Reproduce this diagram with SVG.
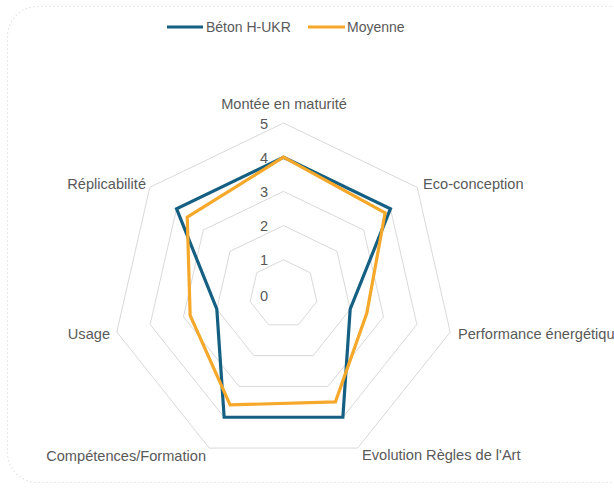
<svg xmlns="http://www.w3.org/2000/svg" width="614" height="488" viewBox="0 0 614 488">
<style>
.grid{fill:none;stroke:#D9D9D9;stroke-width:1}
.lbl{font-family:"Liberation Sans",Arial,sans-serif;font-size:14px;fill:#595959}
.ax{font-family:"Liberation Sans",Arial,sans-serif;font-size:14.6px;fill:#595959}
.ser{fill:none;stroke-width:3.2;stroke-linejoin:miter}
</style>
<rect x="0" y="0" width="614" height="488" fill="#FFFFFF"/>
<rect x="7.5" y="6.5" width="640" height="476" rx="30" fill="none" stroke="#E3E3E3" stroke-width="1.2" stroke-dasharray="1.5 2.5"/>
<g id="legend">
<line x1="167" y1="27" x2="203" y2="27" stroke="#156082" stroke-width="3.2"/>
<text class="lbl" x="206" y="32">Béton H-UKR</text>
<line x1="308" y1="27" x2="345" y2="27" stroke="#F5A82A" stroke-width="3.2"/>
<text class="lbl" x="347" y="32">Moyenne</text>
</g>
<g id="grid">
<polygon class="grid" points="283.5,259.8 310.24,272.68 316.84,301.61 298.34,324.81 268.66,324.81 250.16,301.61 256.76,272.68"/>
<polygon class="grid" points="283.5,225.6 336.98,251.35 350.18,309.22 313.18,355.63 253.82,355.63 216.82,309.22 230.02,251.35"/>
<polygon class="grid" points="283.5,191.4 363.71,230.03 383.52,316.83 328.02,386.44 238.98,386.44 183.48,316.83 203.29,230.03"/>
<polygon class="grid" points="283.5,157.2 390.45,208.71 416.87,324.44 342.86,417.26 224.14,417.26 150.13,324.44 176.55,208.71"/>
<polygon class="grid" points="283.5,123 417.19,187.38 450.21,332.05 357.7,448.07 209.3,448.07 116.79,332.05 149.81,187.38"/>
</g>
<g id="scale">
<text class="ax" x="268" y="129" text-anchor="end">5</text>
<text class="ax" x="268" y="163" text-anchor="end">4</text>
<text class="ax" x="268" y="197" text-anchor="end">3</text>
<text class="ax" x="268" y="231" text-anchor="end">2</text>
<text class="ax" x="268" y="265" text-anchor="end">1</text>
<text class="ax" x="268" y="301" text-anchor="end">0</text>
</g>
<g id="categories">
<text class="ax" x="284" y="109" text-anchor="middle">Montée en maturité</text>
<text class="ax" x="423" y="189">Eco-conception</text>
<text class="ax" x="458" y="339">Performance énergétique</text>
<text class="ax" x="362" y="460">Evolution Règles de l'Art</text>
<text class="ax" x="206" y="461" text-anchor="end">Compétences/Formation</text>
<text class="ax" x="110" y="339" text-anchor="end">Usage</text>
<text class="ax" x="146" y="189" text-anchor="end">Réplicabilité</text>
</g>
<g id="connectors">
<polygon id="beton" class="ser" stroke="#156082" points="283.5,157.2 390.45,208.71 350.18,309.22 342.86,417.26 224.14,417.26 216.82,309.22 176.55,208.71"/>
<polygon id="moyenne" class="ser" stroke="#F5A82A" points="283.5,157.2 385.1,212.97 366.85,313.02 335.44,401.85 230.08,404.93 190.14,315.31 187.24,217.23"/>
</g>
</svg>
